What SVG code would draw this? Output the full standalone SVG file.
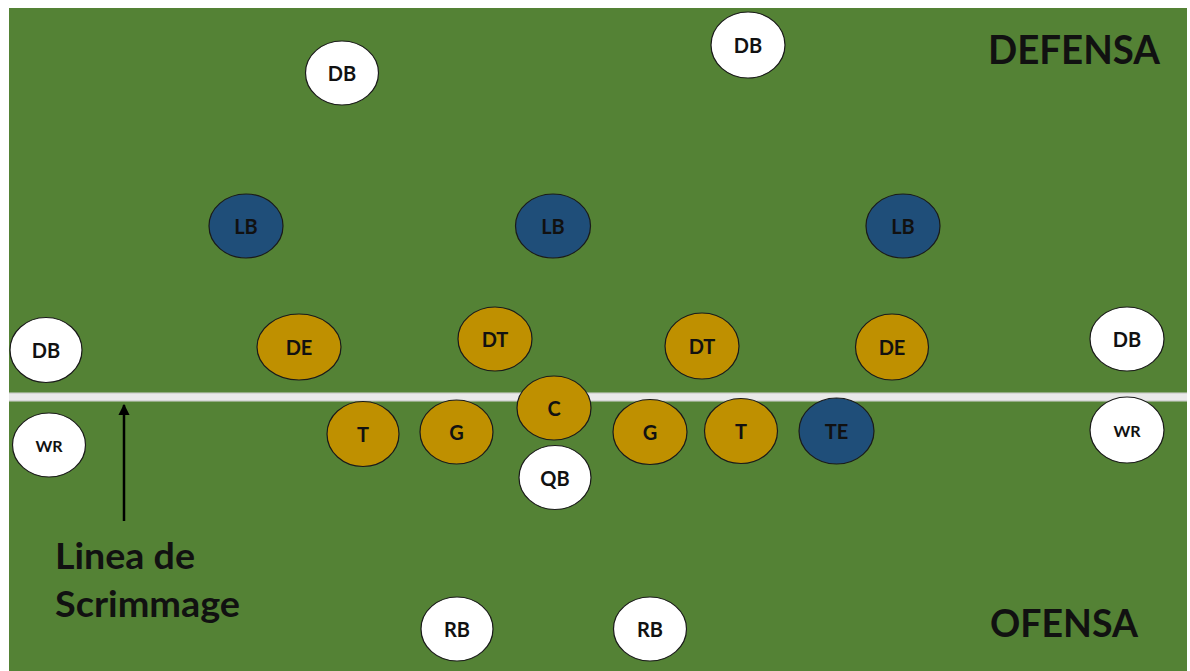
<svg xmlns="http://www.w3.org/2000/svg" width="1190" height="671" viewBox="0 0 1190 671">
<defs>
<style>
.w{fill:#FFFFFF;stroke:#1a1a1a;stroke-width:1.2}
.g{fill:#BF9000;stroke:#1a1a1a;stroke-width:1.2}
.b{fill:#1F4E79;stroke:#1a1a1a;stroke-width:1.2}
.t{font-family:Lato,"Liberation Sans",sans-serif;font-weight:bold;font-size:20px;fill:#111;text-anchor:middle}
.s{font-size:16px}
.big{font-family:Lato,"Liberation Sans",sans-serif;font-weight:bold;fill:#111}
</style>
<marker id="ah" viewBox="0 0 10 10" refX="9" refY="5" markerWidth="4.6" markerHeight="4.6" orient="auto">
<path d="M0,0 L10,5 L0,10 z" fill="#000"/>
</marker>
</defs>
<rect x="0" y="0" width="1190" height="671" fill="#FFFFFF"/>
<rect x="9" y="8" width="1178" height="663" fill="#548235"/>
<rect x="9" y="392.5" width="1178" height="9" fill="#D6D6D6"/>
<rect x="9" y="394" width="1178" height="6" fill="#E9E9E9"/>

<g id="connectors">
<line x1="124" y1="521" x2="124" y2="405" stroke="#000" stroke-width="2.5" marker-end="url(#ah)"/>
</g>

<g id="db-top-left"><ellipse class="w" cx="342" cy="73" rx="36.5" ry="32"/><text class="t" x="342" y="81">DB</text></g>
<g id="db-top-mid"><ellipse class="w" cx="748" cy="45" rx="37" ry="33"/><text class="t" x="748" y="53">DB</text></g>
<g id="lb-left"><ellipse class="b" cx="246" cy="226" rx="37" ry="32"/><text class="t" x="246" y="234">LB</text></g>
<g id="lb-mid"><ellipse class="b" cx="553" cy="226" rx="37.5" ry="32"/><text class="t" x="553" y="234">LB</text></g>
<g id="lb-right"><ellipse class="b" cx="903" cy="226" rx="37" ry="32"/><text class="t" x="903" y="234">LB</text></g>
<g id="db-left"><ellipse class="w" cx="46" cy="350" rx="36" ry="32.5"/><text class="t" x="46" y="358">DB</text></g>
<g id="de-left"><ellipse class="g" cx="299" cy="347" rx="42" ry="33"/><text class="t" x="299" y="355">DE</text></g>
<g id="dt-left"><ellipse class="g" cx="495" cy="339" rx="37" ry="32"/><text class="t" x="495" y="347">DT</text></g>
<g id="dt-right"><ellipse class="g" cx="702" cy="346" rx="37" ry="33"/><text class="t" x="702" y="354">DT</text></g>
<g id="de-right"><ellipse class="g" cx="892" cy="347" rx="36.5" ry="33"/><text class="t" x="892" y="355">DE</text></g>
<g id="db-right"><ellipse class="w" cx="1127" cy="339" rx="37" ry="32"/><text class="t" x="1127" y="347">DB</text></g>

<g id="wr-left"><ellipse class="w" cx="49" cy="445" rx="36.5" ry="32"/><text class="t s" x="49" y="452">WR</text></g>
<g id="t-left"><ellipse class="g" cx="363" cy="434" rx="36" ry="32.5"/><text class="t" x="363" y="442">T</text></g>
<g id="g-left"><ellipse class="g" cx="456.5" cy="432" rx="36.5" ry="32"/><text class="t" x="456.5" y="440">G</text></g>
<g id="c"><ellipse class="g" cx="554" cy="408" rx="37" ry="32"/><text class="t" x="554" y="416">C</text></g>
<g id="qb"><ellipse class="w" cx="555" cy="477.5" rx="36" ry="32"/><text class="t" x="555" y="486">QB</text></g>
<g id="g-right"><ellipse class="g" cx="650" cy="432" rx="37" ry="32.5"/><text class="t" x="650" y="440">G</text></g>
<g id="t-right"><ellipse class="g" cx="741" cy="431" rx="36.5" ry="32.5"/><text class="t" x="741" y="439">T</text></g>
<g id="te"><ellipse class="b" cx="836.5" cy="431" rx="37.5" ry="33"/><text class="t" x="836.5" y="439">TE</text></g>
<g id="wr-right"><ellipse class="w" cx="1127" cy="430" rx="37" ry="33"/><text class="t s" x="1127" y="437">WR</text></g>
<g id="rb-left"><ellipse class="w" cx="457" cy="629" rx="36" ry="32"/><text class="t" x="457" y="637">RB</text></g>
<g id="rb-right"><ellipse class="w" cx="650" cy="629" rx="36.5" ry="32"/><text class="t" x="650" y="637">RB</text></g>

<text class="big" x="988" y="64" font-size="41" textLength="172" lengthAdjust="spacingAndGlyphs">DEFENSA</text>
<text class="big" x="990" y="637" font-size="39" textLength="148" lengthAdjust="spacingAndGlyphs">OFENSA</text>
<text class="big" x="55" y="569" font-size="37" textLength="140" lengthAdjust="spacingAndGlyphs">Linea de</text>
<text class="big" x="55" y="617" font-size="37" textLength="185" lengthAdjust="spacingAndGlyphs">Scrimmage</text>
</svg>
